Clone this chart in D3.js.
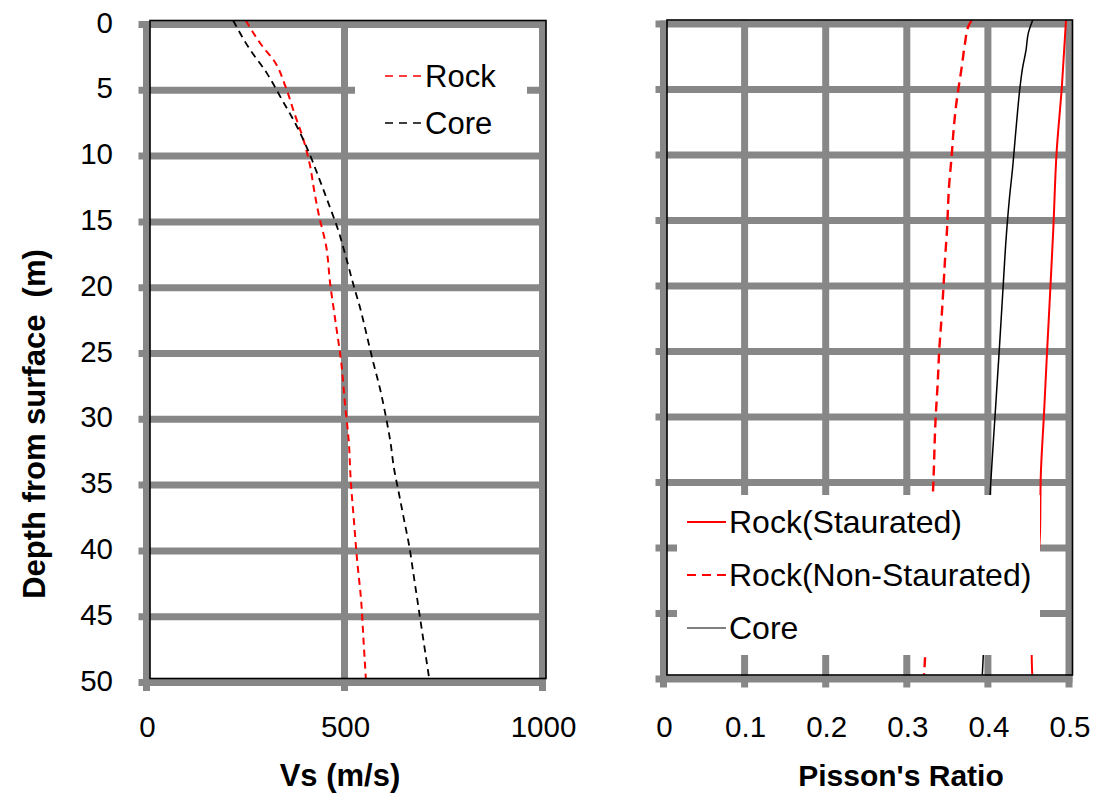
<!DOCTYPE html>
<html>
<head>
<meta charset="utf-8">
<script src="https://cdn.jsdelivr.net/npm/d3@7"></script>
<style>
body { margin: 0; background: #fff; }
svg { display: block; }
text { font-family: "Liberation Sans", Arial, sans-serif; fill: #000; }
</style>
</head>
<body>
<div id="chart"></div>
<script>
// tick values
var depthTicks = [0, 5, 10, 15, 20, 25, 30, 35, 40, 45, 50];
var vsTicks = [0, 500, 1000];
var prTicks = [0, 0.1, 0.2, 0.3, 0.4, 0.5];

// left chart: shear wave velocity vs depth
var rockDepth = [0, 2, 3, 5, 7, 9, 11, 13, 15, 17, 20, 23, 26, 29, 32, 35, 38, 41, 44, 47, 50];
var rockVs    = [242, 285, 312, 342, 364, 387, 404, 415, 428, 444, 455, 469, 483, 492, 502, 507, 515, 523, 533, 539, 545];
var coreDepth = [0, 2, 4, 6, 8, 10, 12, 14, 16, 18, 20, 22, 24, 26, 28, 30, 32, 34, 36, 38, 40, 42, 44, 46, 48, 50];
var coreVs    = [210, 248, 295, 333, 370, 401, 427, 452, 476, 495, 513, 532, 548, 564, 581, 595, 607, 616, 629, 642, 655, 665, 675, 685, 695, 705];

// right chart: poisson's ratio vs depth
var satDepth    = [0, 5, 10, 16, 20, 25, 30, 35, 39, 42, 45, 48.5, 50];
var satPR       = [0.492, 0.487, 0.4805, 0.4763, 0.4731, 0.4689, 0.4649, 0.4608, 0.460, 0.457, 0.4535, 0.4497, 0.4504];
var nonSatDepth = [0, 0.5, 1.8, 3.6, 5.3, 6.6, 8.7, 10.4, 12.5, 16.3, 18.1, 20.6, 22.6, 25.2, 27.7, 30.3, 35.4, 40, 45, 48.9, 50];
var nonSatPR    = [0.3757, 0.3715, 0.3674, 0.3634, 0.3592, 0.3563, 0.353, 0.351, 0.348, 0.345, 0.343, 0.3407, 0.3387, 0.3357, 0.3338, 0.3313, 0.3284, 0.325, 0.321, 0.318, 0.317];
var corePRDepth = [0, 1, 2.3, 3.6, 5.1, 6.9, 9.2, 11.2, 13.7, 16.8, 20.1, 25.2, 30.3, 35.4, 40, 45, 48.5, 50];
var corePR      = [0.451, 0.4455, 0.4427, 0.4386, 0.4353, 0.4324, 0.4291, 0.4263, 0.4221, 0.418, 0.4147, 0.4097, 0.4044, 0.3991, 0.3955, 0.392, 0.390, 0.3888];

var svg = d3.select("#chart").append("svg")
  .attr("width", 1108)
  .attr("height", 793);

// gray gridlines sit a few px off the black plot frame, like the original
var gdx = -3.5, gdy = 4;
var gray = "#878787";

function zip(ds, vs) {
  return ds.map(function(d, i) { return { depth: d, v: vs[i] }; });
}

function drawGrid(g, x, y, xt) {
  var x0 = x(xt[0]) + gdx, x1 = x(xt[xt.length - 1]) + gdx;
  var y0 = y(0) + gdy, y1 = y(50) + gdy;
  g.selectAll(".hg").data(depthTicks).enter().append("line")
    .attr("x1", x0 - 8).attr("x2", x1 + 3.5)
    .attr("y1", function(d) { return y(d) + gdy; })
    .attr("y2", function(d) { return y(d) + gdy; })
    .attr("stroke", gray).attr("stroke-width", 7);
  g.selectAll(".vg").data(xt).enter().append("line")
    .attr("y1", y0 - 3.5).attr("y2", y1 + 8.5)
    .attr("x1", function(d) { return x(d) + gdx; })
    .attr("x2", function(d) { return x(d) + gdx; })
    .attr("stroke", gray).attr("stroke-width", 7);
}

function drawFrame(g, x, y, xt) {
  g.append("rect")
    .attr("x", x(xt[0])).attr("y", y(0))
    .attr("width", x(xt[xt.length - 1]) - x(xt[0]))
    .attr("height", y(50) - y(0))
    .attr("fill", "none").attr("stroke", "#000").attr("stroke-width", 1.6);
}

function drawLine(g, x, y, data, color, width, dash) {
  g.append("path")
    .datum(data)
    .attr("fill", "none")
    .attr("stroke", color)
    .attr("stroke-width", width)
    .attr("stroke-dasharray", dash)
    .attr("d", d3.line()
      .curve(d3.curveMonotoneY)
      .x(function(d) { return x(d.v); })
      .y(function(d) { return y(d.depth); }));
}

function drawLegend(g, box, items, fs) {
  g.append("rect")
    .attr("x", box[0]).attr("y", box[1])
    .attr("width", box[2]).attr("height", box[3])
    .attr("fill", "#fff");
  items.forEach(function(it) {
    g.append("line")
      .attr("x1", it.x).attr("x2", it.x + it.len)
      .attr("y1", it.y).attr("y2", it.y)
      .attr("stroke", it.color).attr("stroke-width", it.width)
      .attr("stroke-dasharray", it.dash);
    g.append("text")
      .attr("x", it.x + it.len + 3).attr("y", it.y + 10.5)
      .style("font-size", fs + "px")
      .text(it.label);
  });
}

// ---- left chart
var x = d3.scaleLinear().domain([0, 1000]).range([150, 546]);
var y = d3.scaleLinear().domain([0, 50]).range([20.5, 678.5]);
var left = svg.append("g");
drawGrid(left, x, y, vsTicks);

drawLine(left, x, y, zip(rockDepth, rockVs), "#ff0000", 2, "7,5");
drawLine(left, x, y, zip(coreDepth, coreVs), "#000", 1.8, "7,5");

drawLegend(left, [355, 36, 172, 112], [
  { label: "Rock", color: "#ff0000", width: 1.6, dash: "8,6", x: 385, y: 76, len: 37 },
  { label: "Core", color: "#000", width: 1.6, dash: "8,6", x: 385, y: 123, len: 37 }
], 31);
drawFrame(left, x, y, vsTicks);

left.selectAll(".yl").data(depthTicks).enter().append("text")
  .attr("x", 113)
  .attr("y", function(d) { return y(d) + gdy - 2.5; })
  .attr("text-anchor", "end")
  .attr("dominant-baseline", "central")
  .style("font-size", "29.5px")
  .text(function(d) { return d; });

left.selectAll(".xl").data(vsTicks).enter().append("text")
  .attr("x", function(d) { return x(d) + gdx + 1; })
  .attr("y", 737)
  .attr("text-anchor", "middle")
  .style("font-size", "29.5px")
  .text(function(d) { return d; });

left.append("text")
  .attr("x", 340).attr("y", 786)
  .attr("text-anchor", "middle")
  .style("font-size", "31px").style("font-weight", "bold")
  .text("Vs (m/s)");

left.append("text")
  .attr("transform", "translate(45,424) rotate(-90)")
  .attr("text-anchor", "middle")
  .style("font-size", "31px").style("font-weight", "bold")
  .style("white-space", "pre")
  .text("Depth from surface  (m)");

// ---- right chart
var x2 = d3.scaleLinear().domain([0, 0.5]).range([667, 1072.5]);
var y2 = d3.scaleLinear().domain([0, 50]).range([20, 675]);
var right = svg.append("g");
drawGrid(right, x2, y2, prTicks);

drawLine(right, x2, y2, zip(satDepth, satPR), "#ff0000", 2, null);
drawLine(right, x2, y2, zip(nonSatDepth, nonSatPR), "#ff0000", 2.4, "10,6");
drawLine(right, x2, y2, zip(corePRDepth, corePR), "#000", 1.5, null);

drawLegend(right, [677, 495, 363, 160], [
  { label: "Rock(Staurated)", color: "#ff0000", width: 2, dash: null, x: 687, y: 522, len: 39 },
  { label: "Rock(Non-Staurated)", color: "#ff0000", width: 2, dash: "9,6", x: 687, y: 575, len: 39 },
  { label: "Core", color: "#000", width: 1.2, dash: null, x: 687, y: 628, len: 39 }
], 32);
drawFrame(right, x2, y2, prTicks);

right.selectAll(".xl").data(prTicks).enter().append("text")
  .attr("x", function(d) { return x2(d) + gdx + 1; })
  .attr("y", 737)
  .attr("text-anchor", "middle")
  .style("font-size", "29.5px")
  .text(function(d) { return d; });

right.append("text")
  .attr("x", 901).attr("y", 786)
  .attr("text-anchor", "middle")
  .style("font-size", "30px").style("font-weight", "bold")
  .text("Pisson's Ratio");
</script>
</body>
</html>
